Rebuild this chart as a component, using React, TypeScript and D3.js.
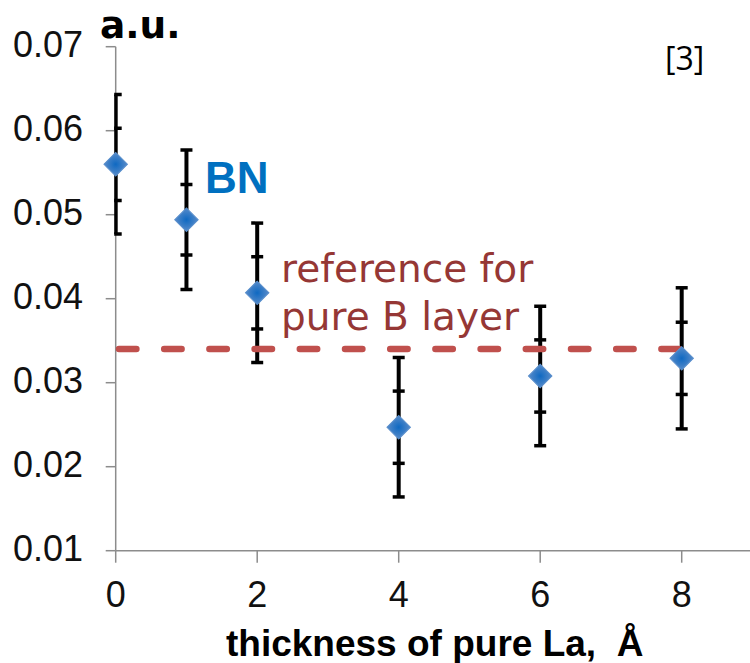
import React from "react";
import * as d3 from "d3";

const thickness = [0, 1, 2, 4, 6, 8];
const signal = [0.056, 0.0494, 0.0407, 0.0247, 0.0308, 0.0329];
const innerErr = [0.0043, 0.0042, 0.0043, 0.0043, 0.0043, 0.0043];
const outerErr = [0.0083, 0.0083, 0.0083, 0.0083, 0.0083, 0.0084];
const referenceLevel = 0.034;
const referenceRange = [0, 8];
const yTicks = [0.01, 0.02, 0.03, 0.04, 0.05, 0.06, 0.07];
const xTicks = [0, 2, 4, 6, 8];

const W = 750;
const H = 663;

export default function App() {
  const x = d3.scaleLinear().domain([0, 9]).range([115.7, 115.7 + 9 * 70.75]);
  const y = d3.scaleLinear().domain([0.01, 0.07]).range([550.7, 46.7]);
  const diamond = d3.symbol().type(d3.symbolSquare).size(275)();
  const axisColor = "#8c8c8c";
  const x0 = x(0);
  const refStart = x(referenceRange[0]) + 3.3;
  const refEnd = x(referenceRange[1]) - 3;

  return (
    <div style={{ position: "absolute", left: 0, top: 0 }}>
      <svg width={W} height={H} style={{ display: "block", background: "#fff" }}>
        <defs>
          <clipPath id="plotClip">
            <rect x={x0 - 1.5} y={0} width={W} height={H} />
          </clipPath>
          <radialGradient id="dg" cx="50%" cy="50%" r="60%">
            <stop offset="0%" stopColor="#0f69c2" />
            <stop offset="100%" stopColor="#4d86c8" />
          </radialGradient>
        </defs>

        {/* y axis */}
        <line x1={x0} x2={x0} y1={y(0.07)} y2={y(0.01)} stroke={axisColor} strokeWidth={1.5} />
        {yTicks.map((t) => (
          <g key={"yt" + t}>
            <line x1={x0 - 10} x2={x0} y1={y(t)} y2={y(t)} stroke={axisColor} strokeWidth={1.5} />
            <text
              x={83}
              y={y(t) + 10}
              textAnchor="end"
              fontFamily="'Liberation Sans', Arial, sans-serif"
              fontSize={36}
              fill="#111"
            >
              {d3.format(".2f")(t)}
            </text>
          </g>
        ))}

        {/* x axis */}
        <line x1={x0} x2={W} y1={y(0.01)} y2={y(0.01)} stroke={axisColor} strokeWidth={1.5} />
        {xTicks.map((t) => (
          <g key={"xt" + t}>
            <line x1={x(t)} x2={x(t)} y1={y(0.01)} y2={y(0.01) + 12} stroke={axisColor} strokeWidth={1.5} />
            <text
              x={x(t)}
              y={607.3}
              textAnchor="middle"
              fontFamily="'Liberation Sans', Arial, sans-serif"
              fontSize={36}
              fill="#111"
            >
              {t}
            </text>
          </g>
        ))}

        {/* error bars */}
        <g clipPath="url(#plotClip)">
          {thickness.map((t, i) => {
            const cx = x(t);
            const v = signal[i];
            const caps = [v + outerErr[i], v + innerErr[i], v - innerErr[i], v - outerErr[i]];
            return (
              <g key={"eb" + i}>
                <line
                  x1={cx}
                  x2={cx}
                  y1={y(v + outerErr[i])}
                  y2={y(v - outerErr[i])}
                  stroke="#000"
                  strokeWidth={4}
                />
                {caps.map((c, j) => (
                  <line
                    key={j}
                    x1={cx - 6}
                    x2={cx + 6}
                    y1={y(c)}
                    y2={y(c)}
                    stroke="#000"
                    strokeWidth={3.5}
                  />
                ))}
              </g>
            );
          })}
        </g>

        {/* reference dashed line */}
        <line
          x1={refStart}
          x2={refEnd}
          y1={y(referenceLevel)}
          y2={y(referenceLevel)}
          stroke="#c0504d"
          strokeWidth={6.5}
          strokeLinecap="round"
          strokeDasharray="17.4 27.8"
        />

        {/* markers */}
        {thickness.map((t, i) => (
          <path
            key={"pt" + i}
            d={diamond || ""}
            transform={`translate(${x(t)},${y(signal[i])}) rotate(45)`}
            fill="url(#dg)"
            stroke="#5a8fcc"
            strokeWidth={1}
          />
        ))}

        {/* annotations */}
        <text x={100} y={38.3} fontFamily="'DejaVu Sans', Verdana, sans-serif" fontWeight="bold" fontSize={37.5} fill="#000">
          a.u.
        </text>
        <text x={205} y={193} fontFamily="'Liberation Sans', Arial, sans-serif" fontWeight="bold" fontSize={44} fill="#0070c0">
          BN
        </text>
        <text x={281} y={282} fontFamily="'DejaVu Sans', Verdana, sans-serif" fontSize={39} fill="#953735">
          reference for
        </text>
        <text x={281} y={330} fontFamily="'DejaVu Sans', Verdana, sans-serif" fontSize={39} fill="#953735">
          pure B layer
        </text>
        <text x={665} y={70} fontFamily="'Open Sans', sans-serif" fontSize={32} fill="#000">
          [3]
        </text>
        <text
          x={434.7}
          y={656}
          textAnchor="middle"
          fontFamily="'Liberation Sans', Arial, sans-serif"
          fontWeight="bold"
          fontSize={37}
          fill="#000"
          style={{ whiteSpace: "pre" }}
        >
          {"thickness of pure La,  Å"}
        </text>
      </svg>
    </div>
  );
}
